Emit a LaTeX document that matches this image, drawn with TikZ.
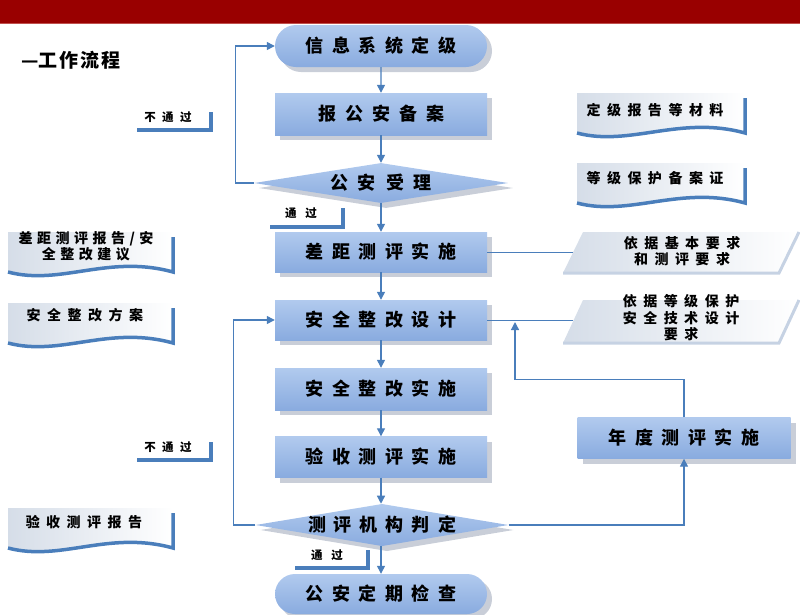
\documentclass[tikz,border=0pt]{standalone}
\usepackage{fontspec}
\setmainfont{Noto Sans CJK SC}
\usepackage{xcolor}
\usepackage{tikz}
\usetikzlibrary{shapes.geometric, shapes.misc, arrows.meta, shadows, calc}

\definecolor{bandred}{HTML}{990000}
\definecolor{bandedge}{HTML}{C0504D}
\definecolor{boxtop}{HTML}{B1CAEE}
\definecolor{boxbot}{HTML}{89ABDF}
\definecolor{flowblue}{HTML}{4A7EBB}
\definecolor{shadowgray}{HTML}{C9CED8}
\definecolor{docgray}{HTML}{D5DDE8}
\definecolor{edgegray}{HTML}{C6D2E3}

\makeatletter
\def\spread#1#2{\def\spread@sep{\hspace{#1}}\spread@a#2\@nil}
\def\spread@a#1{\ifx\@nil#1\else#1\expandafter\spread@b\fi}
\def\spread@b#1{\ifx\@nil#1\else\spread@sep#1\expandafter\spread@b\fi}
\makeatother

\newcommand\docshape[3]{%
  \shade[left color=docgray, right color=white]
    (#1,#2) -- ({#1+#3},#2) -- ({#1+#3},{#2+40})
    .. controls ({#1+#3-65},{#2+22}) and ({#1+53},{#2+54}) .. (#1,{#2+40}) -- cycle;
  \draw[bar] ({#1+#3},{#2+5}) -- ({#1+#3},{#2+40})
    .. controls ({#1+#3-65},{#2+22}) and ({#1+53},{#2+54}) .. (#1,{#2+40});
}
\newcommand\slantshape[4]{%
  \shade[left color=docgray, right color=white]
    ({#1+10},#2) -- ({#1+#3+10},#2) -- ({#1+#3-10},{#2+#4}) -- ({#1-10},{#2+#4}) -- cycle;
  \draw[edgegray, line width=3] ({#1+#3+10},#2) -- ({#1+#3-10},{#2+#4}) -- ({#1-10},{#2+#4});
}

\begin{document}
\begin{tikzpicture}[x=1pt, y=-1pt,
  box/.style={rectangle, minimum width=212, minimum height=42, inner sep=0,
    top color=boxtop, bottom color=boxbot,
    drop shadow={shadow xshift=5pt, shadow yshift=-5pt, fill=shadowgray, opacity=1},
    font=\fontsize{18}{21}\selectfont\bfseries},
  stadium/.style={box, rounded rectangle},
  decision/.style={box, diamond, aspect=6, minimum width=254, minimum height=40},
  flow/.style={draw=flowblue, line width=1.3, -{Triangle[width=8pt,length=8pt]}},
  link/.style={draw=flowblue, line width=1},
  bar/.style={draw=flowblue, line width=3.5},
  note/.style={inner sep=0, align=center, font=\fontsize{14}{16.5}\selectfont\bfseries},
  tag/.style={inner sep=0, font=\fontsize{11.5}{13}\selectfont\bfseries}]
\useasboundingbox (0,0) rectangle (800,614);
\fill[bandred] (0,0) rectangle (800,23);
\draw[bandedge, line width=1.5] (0,23.5) -- (800,23.5);
\node[font=\fontsize{19}{22}\selectfont\bfseries] (title) at (71,60) {—\spread{2pt}{工作流程}};

\node[stadium] (sys) at (381,46) {\spread{8.5pt}{信息系统定级}};
\node[box] (rep) at (381,114) {\spread{9pt}{报公安备案}};
\node[decision] (acc) at (381,183) {\spread{10pt}{公安受理}};
\node[box, minimum height=40] (gap) at (381,252) {\spread{8.5pt}{差距测评实施}};
\node[box, minimum height=40] (des) at (381,320) {\spread{8.5pt}{安全整改设计}};
\node[box] (imp) at (381,389) {\spread{8.5pt}{安全整改实施}};
\node[box, minimum height=41] (chk) at (381,457) {\spread{8.5pt}{验收测评实施}};
\node[decision, minimum width=250] (judge) at (382,525) {\spread{8pt}{测评机构判定}};
\node[stadium, minimum height=40] (insp) at (381,594) {\spread{8.5pt}{公安定期检查}};
\node[box, minimum width=213, minimum height=41] (annual) at (684,438) {\spread{8.5pt}{年度测评实施}};

\foreach \a/\b in {sys/rep, rep/acc, acc/gap, gap/des, des/imp, imp/chk}
  \draw[flow] (\a) -- (\b);
\draw[flow] (chk.south) -- (chk.south |- judge.north);
\draw[flow] (insp.north |- judge.south) -- (insp.north);
\draw[flow] (acc.west) -- ++(-18,0) |- (sys.west);
\draw[flow] (judge.west) -- ++(-22,0) |- (des.west);
\draw[flow] (judge.east) -| (annual.south);
\coordinate (j4) at (515,322);
\draw[flow] (annual.north) -- ++(0,-38) -| (j4);

\node[tag] (fail1) at (168,117) {\spread{6.5pt}{不通过}};
\draw[bar] ($(fail1)+(-31,13)$) -| ($(fail1)+(43,-5)$);
\node[tag] (pass1) at (301,213) {\spread{9pt}{通过}};
\draw[bar] ($(pass1)+(-31,14)$) -| ($(pass1)+(42,-5)$);
\node[tag] (fail2) at (168,447) {\spread{6.5pt}{不通过}};
\draw[bar] ($(fail2)+(-31,13)$) -| ($(fail2)+(43,-5)$);
\node[tag] (pass2) at (327,555) {\spread{9pt}{通过}};
\draw[bar] ($(pass2)+(-32,13)$) -| ($(pass2)+(41,-5)$);

\docshape{577}{93}{168}
\node[note] (mat) at (655,110) {\spread{6.5pt}{定级报告等材料}};
\docshape{577}{163}{168}
\node[note] (cert) at (655,178) {\spread{6.5pt}{等级保护备案证}};
\docshape{8}{232}{165}
\node[note] (gaprep) at (86,246) {\spread{4.5pt}{差距测评报告/安}\\\spread{4.5pt}{全整改建议}};
\docshape{8}{303}{165}
\node[note] (plan) at (85,315) {\spread{6.5pt}{安全整改方案}};
\docshape{8}{508}{165}
\node[note] (accrep) at (84,522) {\spread{6.5pt}{验收测评报告}};

\slantshape{573}{232}{216}{41}
\node[note] (basis1) at (682,251) {\spread{6.5pt}{依据基本要求}\\\spread{6.5pt}{和测评要求}};
\slantshape{573}{300}{216}{43}
\node[note] (basis2) at (681,318) {\spread{6.5pt}{依据等级保护}\\\spread{6.5pt}{安全技术设计}\\\spread{6.5pt}{要求}};
\coordinate (lk3) at (573,252);
\coordinate (lk4) at (573,320);
\draw[link] (gap.east) -- (lk3);
\draw[link] (des.east) -- (lk4);
\end{tikzpicture}
\end{document}
